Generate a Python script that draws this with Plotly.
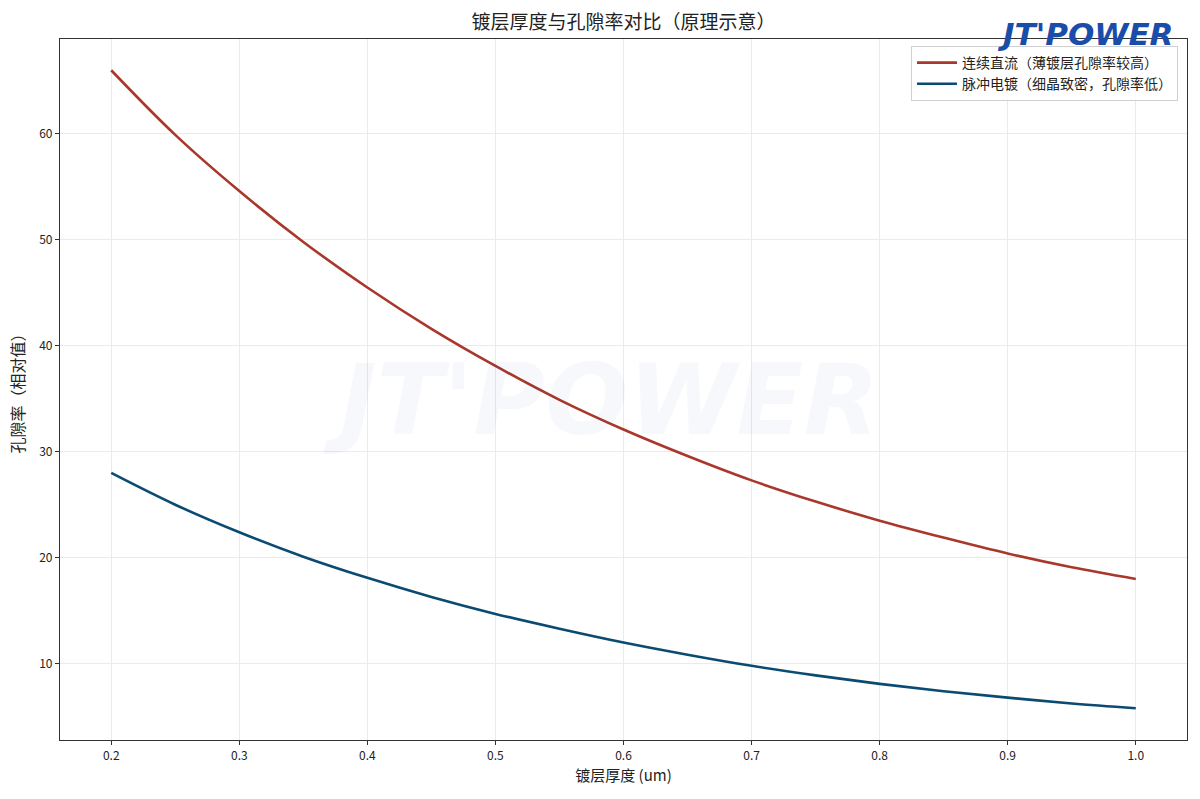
import plotly.graph_objects as go

# thickness (um) and relative porosity
thickness = [0.20, 0.25, 0.30, 0.35, 0.40, 0.45, 0.50, 0.55, 0.60,
             0.65, 0.70, 0.75, 0.80, 0.85, 0.90, 0.95, 1.00]
dc_porosity = [66.0, 59.9, 54.6, 49.8, 45.5, 41.6, 38.1, 34.9, 32.1,
               29.6, 27.3, 25.3, 23.5, 21.9, 20.4, 19.1, 18.0]
pulse_porosity = [28.0, 25.0, 22.4, 20.1, 18.1, 16.3, 14.7, 13.3, 12.0,
                  10.85, 9.8, 8.9, 8.1, 7.4, 6.8, 6.25, 5.8]

series_names = ["连续直流（薄镀层孔隙率较高）", "脉冲电镀（细晶致密，孔隙率低）"]
x_ticks = [0.2, 0.3, 0.4, 0.5, 0.6, 0.7, 0.8, 0.9, 1.0]
y_ticks = [10, 20, 30, 40, 50, 60]

font_cn = "Noto Sans CJK SC, Noto Sans, sans-serif"

fig = go.Figure()
fig.add_trace(go.Scatter(x=thickness, y=dc_porosity, mode="lines",
                         name=series_names[0], line=dict(color="#A9372B", width=2.6, shape="spline")))
fig.add_trace(go.Scatter(x=thickness, y=pulse_porosity, mode="lines",
                         name=series_names[1], line=dict(color="#0B4A71", width=2.6, shape="spline")))

# watermark in the middle of the plot
fig.add_annotation(text="<b><i>JT'POWER</i></b>", xref="paper", yref="paper", x=0.48, y=0.485,
                   showarrow=False, font=dict(family="DejaVu Sans", size=98, color="rgba(30,80,160,0.04)"))
# logo top right
fig.add_annotation(text="<b><i>JT'POWER</i></b>", xref="paper", yref="paper", x=0.99, y=1.0,
                   xanchor="right", yanchor="middle", yshift=5, showarrow=False,
                   font=dict(family="DejaVu Sans", size=31, color="#1A4DAA"))

fig.update_layout(
    width=1200, height=799,
    margin=dict(l=60, r=13, t=39, b=59),
    paper_bgcolor="white", plot_bgcolor="white",
    font=dict(family=font_cn, color="#222", size=12),
    title=dict(text="镀层厚度与孔隙率对比（原理示意）", x=0.5195, xanchor="center",
               y=1 - 22 / 799, yanchor="middle", yref="container",
               font=dict(size=19, color="#222")),
    legend=dict(x=0.992, y=0.99, xanchor="right", yanchor="top",
                bgcolor="rgba(255,255,255,0.85)", bordercolor="#d0d0d0", borderwidth=1,
                font=dict(size=14, color="#222"), tracegroupgap=4, itemwidth=40),
    showlegend=True,
)
fig.update_xaxes(range=[0.16, 1.04], tickvals=x_ticks, tickformat=".1f",
                 showline=True, linecolor="#333", linewidth=1.2, mirror=True,
                 ticks="outside", ticklen=4, tickcolor="#333",
                 showgrid=True, gridcolor="#ebebeb", gridwidth=1, zeroline=False,
                 title=dict(text="镀层厚度 (um)", font=dict(size=15), standoff=8),
                 tickfont=dict(size=12), automargin=False)
fig.update_yaxes(range=[2.8, 68.95], tickvals=y_ticks,
                 showline=True, linecolor="#333", linewidth=1.2, mirror=True,
                 ticks="outside", ticklen=4, tickcolor="#333",
                 showgrid=True, gridcolor="#ebebeb", gridwidth=1, zeroline=False,
                 title=dict(text="孔隙率（相对值）", font=dict(size=16), standoff=10),
                 tickfont=dict(size=12), automargin=False)

fig.write_html("out.html", config={"displayModeBar": False},
               post_script="document.body.style.margin='0';document.body.style.overflow='hidden';")
